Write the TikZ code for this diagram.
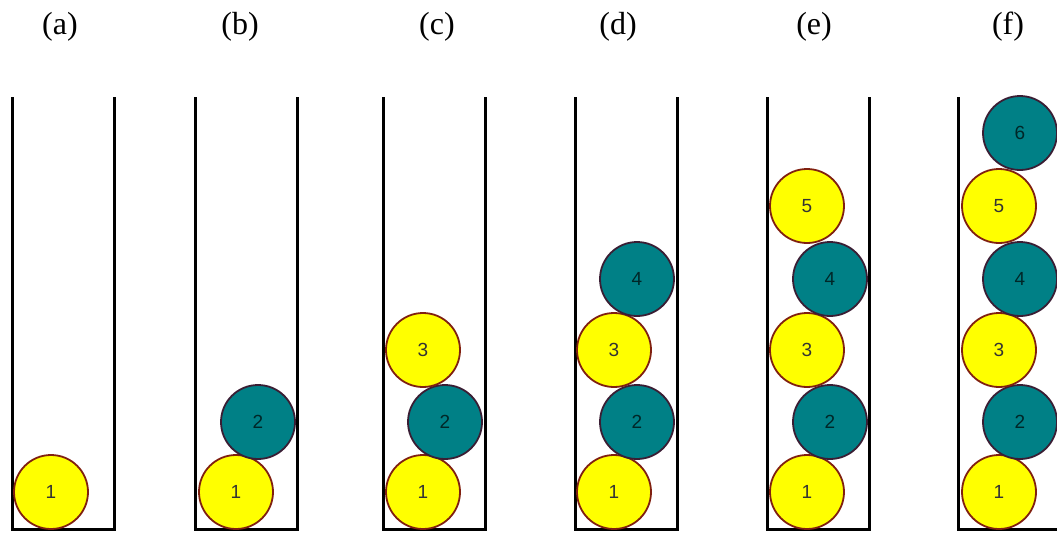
\documentclass[tikz,border=0pt]{standalone}
\usepackage{fontspec}
\setmainfont{Liberation Serif}
\setsansfont{Liberation Sans}
\usetikzlibrary{positioning}
\definecolor{ballyellow}{RGB}{255,255,0}
\definecolor{ballteal}{RGB}{0,128,134}
\definecolor{rimred}{RGB}{128,32,16}
\definecolor{rimdark}{RGB}{58,30,52}

\begin{document}
\begin{tikzpicture}[x=1pt,y=-1pt,
	tube/.style={line width=3pt},
	yball/.style={circle,draw=rimred,fill=ballyellow,line width=1.8pt,minimum size=74pt,inner sep=0pt,text=black!80,font=\sffamily\fontsize{19}{22}\selectfont},
	tball/.style={yball,draw=rimdark,fill=ballteal,text=black!70!ballteal},
	caption/.style={font=\fontsize{32}{38}\selectfont}]
	\useasboundingbox (0,0) rectangle (1057,533);
	\clip (0,0) rectangle (1057,533);

	% the six tubes
	\draw[tube] (12,97) -- (12,529) -- (114,529) -- (114,97);
	\draw[tube] (195,97) -- (195,529) -- (297,529) -- (297,97);
	\draw[tube] (383,97) -- (383,529) -- (485,529) -- (485,97);
	\draw[tube] (575,97) -- (575,529) -- (677,529) -- (677,97);
	\draw[tube] (767,97) -- (767,529) -- (869,529) -- (869,97);
	\draw[tube] (958,97) -- (958,529) -- (1060,529) -- (1060,97);

	\node[caption] (la) at (60,27) {(a)};
	\node[caption] (lb) at (240,27) {(b)};
	\node[caption] (lc) at (437,27) {(c)};
	\node[caption] (ld) at (618,27) {(d)};
	\node[caption] (le) at (814,27) {(e)};
	\node[caption] (lf) at (1008,27) {(f)};

	\node[yball] (a1) at (51,492) {1};

	\node[yball] (b1) at (236,492) {1};
	\node[tball] (b2) at (258,422) {2};

	\node[yball] (c1) at (423,492) {1};
	\node[tball] (c2) at (445,422) {2};
	\node[yball] (c3) at (423,350) {3};

	\node[yball] (d1) at (614,492) {1};
	\node[tball] (d2) at (637,422) {2};
	\node[yball] (d3) at (614,350) {3};
	\node[tball] (d4) at (637,279) {4};

	\node[yball] (e1) at (807,492) {1};
	\node[tball] (e2) at (830,422) {2};
	\node[yball] (e3) at (807,350) {3};
	\node[tball] (e4) at (830,279) {4};
	\node[yball] (e5) at (807,206) {5};

	\node[yball] (f1) at (999,492) {1};
	\node[tball] (f2) at (1020,422) {2};
	\node[yball] (f3) at (999,350) {3};
	\node[tball] (f4) at (1020,279) {4};
	\node[yball] (f5) at (999,206) {5};
	\node[tball] (f6) at (1020,133) {6};
\end{tikzpicture}
\end{document}
